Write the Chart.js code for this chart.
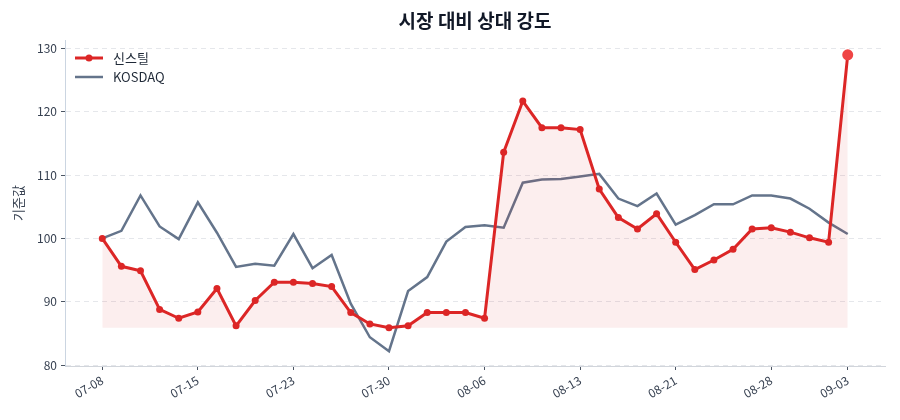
<!DOCTYPE html>
<html>
<head>
<meta charset="utf-8">
<script src="https://cdn.jsdelivr.net/npm/chart.js@4.4.1/dist/chart.umd.min.js"></script>
<style>
    html, body { margin: 0; padding: 0; background: #fff; }
    #wrap { width: 900px; height: 420px; }
</style>
</head>
<body>
<div id="wrap"><canvas id="chartRel"></canvas></div>
<script>
// dates (trading days)
const dates = ['07-08', '07-09', '07-10', '07-11', '07-14', '07-15', '07-16', '07-17', '07-21', '07-22',
    '07-23', '07-24', '07-25', '07-28', '07-29', '07-30', '07-31', '08-01', '08-04', '08-05',
    '08-06', '08-07', '08-08', '08-11', '08-12', '08-13', '08-14', '08-18', '08-19', '08-20',
    '08-21', '08-22', '08-25', '08-26', '08-27', '08-28', '08-29', '09-01', '09-02', '09-03'];

// rebased to 100
const stockVals = [100, 95.6, 94.9, 88.8, 87.4, 88.4, 92.1, 86.2, 90.2, 93.1,
    93.1, 92.9, 92.4, 88.3, 86.5, 85.9, 86.2, 88.3, 88.3, 88.3,
    87.4, 113.6, 121.7, 117.5, 117.5, 117.2, 107.8, 103.3, 101.5, 103.9,
    99.4, 95.1, 96.6, 98.3, 101.5, 101.7, 101.0, 100.1, 99.4, 129.0];

const kosdaqVals = [100, 101.2, 106.8, 101.9, 99.9, 105.7, 100.9, 95.5, 96.0, 95.7,
    100.7, 95.3, 97.4, 89.7, 84.4, 82.2, 91.7, 93.9, 99.5, 101.8,
    102.1, 101.7, 108.8, 109.3, 109.4, 109.8, 110.2, 106.3, 105.1, 107.1,
    102.2, 103.7, 105.4, 105.4, 106.8, 106.8, 106.3, 104.7, 102.5, 100.7];

const xTickIdx = [0, 5, 10, 15, 20, 25, 30, 35, 39];
const yTicks = [80, 90, 100, 110, 120, 130];

const seriesNames = ['신스틸', 'KOSDAQ'];
const RED = '#dc2626';
const GRAY = '#64748b';
const FONT = "'Noto Sans CJK KR', 'Noto Sans', sans-serif";

const lastIdx = stockVals.length - 1;
const stockMin = Math.min(...stockVals);

// title + in-plot legend
const decorPlugin = {
    id: 'decor',
    afterDraw(chart) {
        const ctx = chart.ctx;
        const area = chart.chartArea;
        ctx.save();
        ctx.fillStyle = '#111827';
        ctx.font = "bold 19px " + FONT;
        ctx.textAlign = 'center';
        ctx.textBaseline = 'middle';
        ctx.fillText('시장 대비 상대 강도', (area.left + area.right) / 2, 21);

        // legend
        const lx = area.left + 10;
        let ly = area.top + 18;
        ctx.font = "13px " + FONT;
        ctx.textAlign = 'left';

        ctx.strokeStyle = RED;
        ctx.lineWidth = 3;
        ctx.beginPath(); ctx.moveTo(lx, ly); ctx.lineTo(lx + 28, ly); ctx.stroke();
        ctx.fillStyle = RED;
        ctx.beginPath(); ctx.arc(lx + 14, ly, 3.5, 0, Math.PI * 2); ctx.fill();
        ctx.fillStyle = '#1f2937';
        ctx.fillText(seriesNames[0], lx + 38, ly);

        ly += 19;
        ctx.strokeStyle = GRAY;
        ctx.lineWidth = 2.5;
        ctx.beginPath(); ctx.moveTo(lx, ly); ctx.lineTo(lx + 28, ly); ctx.stroke();
        ctx.fillText(seriesNames[1], lx + 38, ly);
        ctx.restore();
    }
};

const dataRel = {
    datasets: [
        {
            label: seriesNames[0],
            data: stockVals.map((v, i) => ({x: i, y: v})),
            borderColor: RED,
            borderWidth: 3,
            pointBackgroundColor: ctx => ctx.dataIndex === lastIdx ? '#ef4444' : RED,
            pointBorderWidth: 0,
            pointRadius: ctx => ctx.dataIndex === lastIdx ? 5.5 : 3.5,
            fill: {value: stockMin},
            backgroundColor: 'rgba(220, 38, 38, 0.08)',
            tension: 0,
            order: 1
        },
        {
            label: seriesNames[1],
            data: kosdaqVals.map((v, i) => ({x: i, y: v})),
            borderColor: GRAY,
            borderWidth: 2.5,
            pointRadius: 0,
            fill: false,
            tension: 0,
            order: 2
        }
    ]
};

const configRel = {
    type: 'line',
    data: dataRel,
    options: {
        responsive: true,
        maintainAspectRatio: false,
        animation: false,
        layout: {
            padding: {top: 40, right: 15, left: 0, bottom: 0}
        },
        scales: {
            x: {
                type: 'linear',
                min: -1.95,
                max: 40.95,
                afterBuildTicks: axis => {
                    axis.ticks = xTickIdx.map(v => ({value: v}));
                },
                afterFit: axis => { axis.height = 54; },
                grid: {
                    drawOnChartArea: false,
                    drawTicks: true,
                    tickLength: 4,
                    tickColor: '#4b5563',
                    tickWidth: 1
                },
                border: {color: '#d1d5db', width: 1},
                ticks: {
                    minRotation: 30,
                    maxRotation: 30,
                    padding: 3,
                    color: '#374151',
                    font: {family: FONT, size: 12},
                    callback: v => dates[v]
                }
            },
            y: {
                min: 79.86,
                max: 131.34,
                afterBuildTicks: axis => {
                    axis.ticks = yTicks.map(v => ({value: v}));
                },
                afterFit: axis => { axis.width = 65; },
                title: {
                    display: true,
                    text: '기준값',
                    color: '#374151',
                    font: {family: FONT, size: 13},
                    padding: {top: 10, bottom: 4}
                },
                grid: {
                    color: '#e5e7eb',
                    lineWidth: 1,
                    tickLength: 4,
                    tickColor: '#4b5563',
                    tickBorderDash: []
                },
                border: {color: '#cbd5e1', width: 1, dash: [5, 4]},
                ticks: {
                    padding: 4,
                    color: '#374151',
                    font: {family: FONT, size: 12}
                }
            }
        },
        plugins: {
            legend: {display: false},
            tooltip: {enabled: false}
        }
    },
    plugins: [decorPlugin]
};

var chartRel = new Chart(
    document.getElementById('chartRel'),
    configRel
);
</script>
</body>
</html>
